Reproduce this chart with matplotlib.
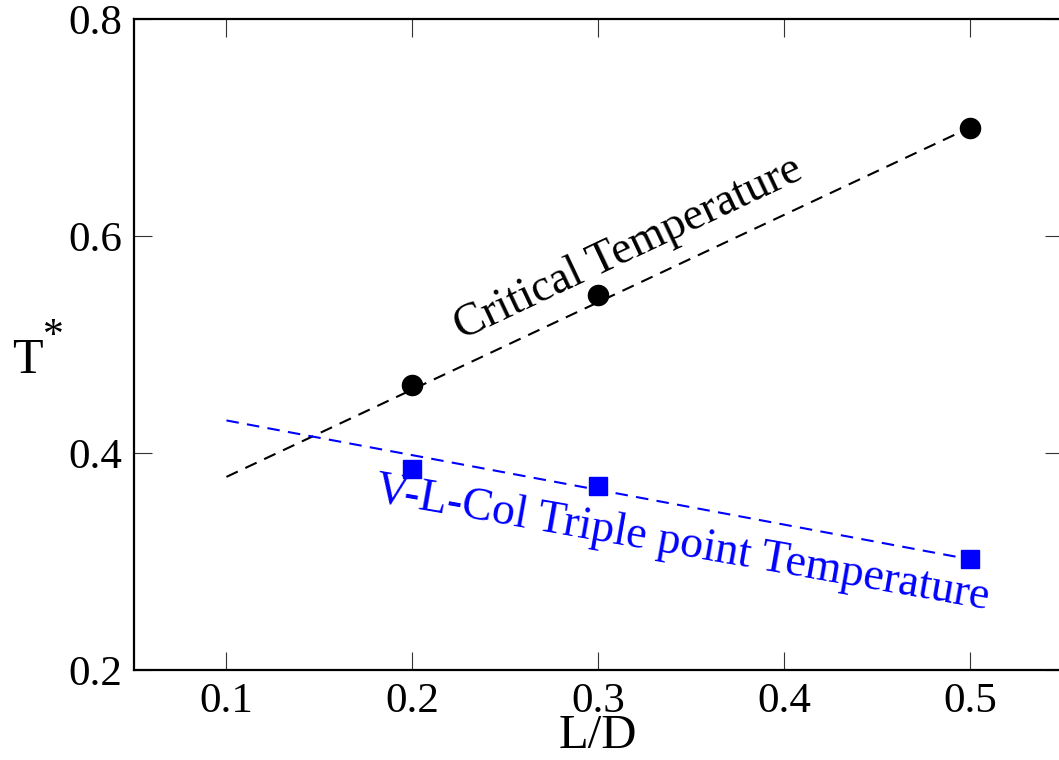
import matplotlib
matplotlib.use("Agg")
import matplotlib.pyplot as plt

# data
ld = [0.2, 0.3, 0.5]
t_crit = [0.463, 0.546, 0.700]
t_triple = [0.385, 0.370, 0.3025]
fit_x = [0.1, 0.5]
fit_crit = [0.378, 0.700]
fit_triple = [0.430, 0.302]
xticks = [0.1, 0.2, 0.3, 0.4, 0.5]
yticks = [0.2, 0.4, 0.6, 0.8]

plt.rcParams['font.family'] = ['Liberation Serif', 'DejaVu Serif']

W, H = 1059, 760
fig = plt.figure(figsize=(W / 100, H / 100), dpi=100)
left, right, top, bottom = 133.5, 1063, 19, 670
ax = fig.add_axes([left / W, (H - bottom) / H, (right - left) / W, (bottom - top) / H])

ax.plot(fit_x, fit_crit, color='black', lw=1.5, dashes=(6, 4))
ax.plot(fit_x, fit_triple, color='#0000ff', lw=1.5, dashes=(6, 4))
ax.plot(ld, t_crit, 'o', color='black', ms=14.5)
ax.plot(ld, t_triple, 's', color='#0000ff', ms=12.5)

ax.set_xlim(0.05, 0.55)
ax.set_ylim(0.2, 0.8)
ax.set_xticks(xticks)
ax.set_yticks(yticks)
ax.set_xticklabels([f"{v:.1f}" for v in xticks])
ax.set_yticklabels([f"{v:.1f}" for v in yticks])
ax.tick_params(direction='in', length=13, width=0.8, labelsize=31, top=True, right=True,
               color='#333333')
ax.tick_params(axis='x', pad=9)
ax.tick_params(axis='y', pad=8)
for s in ax.spines.values():
    s.set_linewidth(1.6)

ax.set_xlabel('L/D', fontsize=35, va='baseline')
ax.xaxis.set_label_coords(0.5, (670 - 748) / 651)

# y label "T*" as horizontal text with raised asterisk
fig.text(12 / W, (H - 373) / H, 'T', fontsize=36, ha='left', va='baseline')
fig.text(43 / W, (H - 347) / H, '*', fontsize=30, ha='left', va='baseline')

ax.text(0.3190, 0.5785, 'Critical Temperature', fontsize=33, rotation=25.3,
        rotation_mode='anchor', ha='center', va='baseline', color='black')
ax.text(0.3440, 0.306, 'V-L-Col Triple point Temperature', fontsize=33, rotation=-10.0,
        rotation_mode='anchor', ha='center', va='baseline', color='#0000ff')

fig.savefig('out.png', dpi=100)
